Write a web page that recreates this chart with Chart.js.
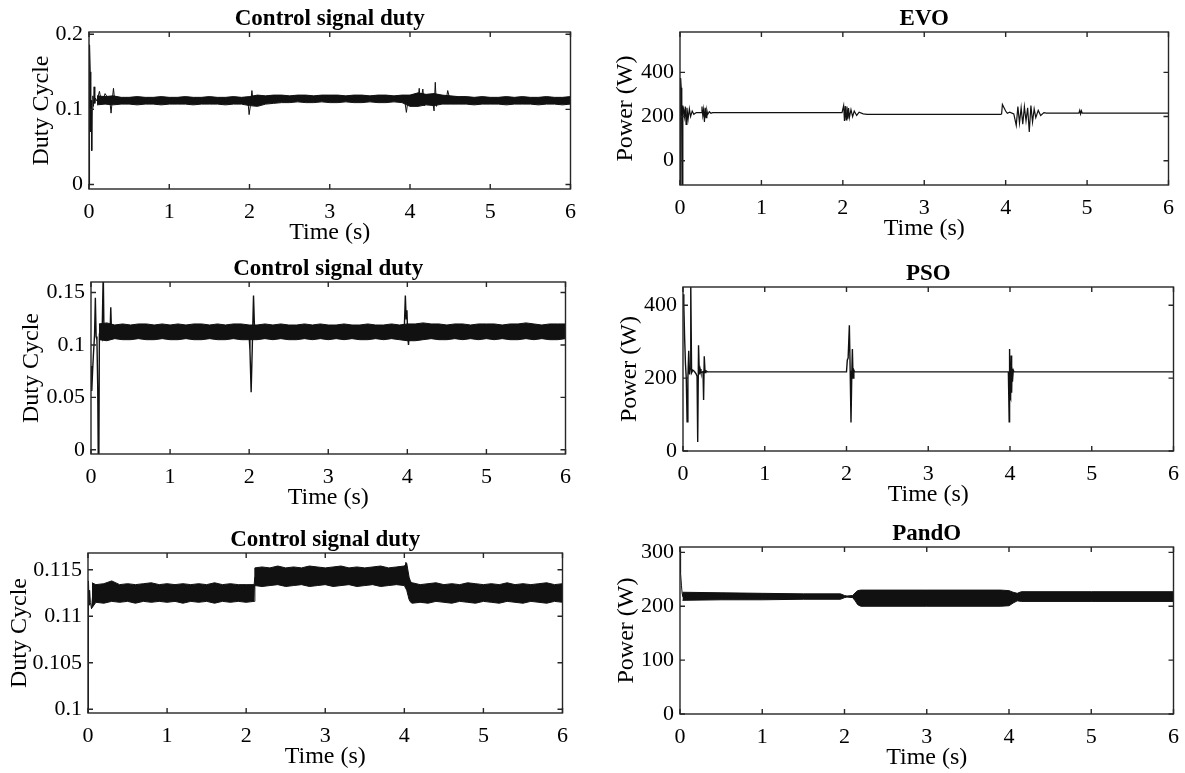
<!DOCTYPE html>
<html><head><meta charset="utf-8">
<script src="https://cdn.jsdelivr.net/npm/chart.js@4/dist/chart.umd.min.js"></script>
<style>
html,body{margin:0;padding:0;background:#fff;width:1185px;height:773px;overflow:hidden;position:relative}
canvas{position:absolute}
</style></head><body>
<script>
// ---------- shared ticks ----------
const timeTicks = [0, 1, 2, 3, 4, 5, 6];
const bandT = [0.1,0.2,0.3,0.4,0.5,0.6,0.7,0.8,0.9,1.0,1.1,1.2,1.3,1.4,1.5,1.6,1.7,1.8,1.9,2.0,2.1,2.2,2.3,2.4,2.5,2.6,2.7,2.8,2.9,3.0,3.1,3.2,3.3,3.4,3.5,3.6,3.7,3.8,3.9,4.0,4.1,4.2,4.3,4.4,4.5,4.6,4.7,4.8,4.9,5.0,5.1,5.2,5.3,5.4,5.5,5.6,5.7,5.8,5.9,6.0];

// ---------- EVO duty ----------
const evoDutyTicks = [0, 0.1, 0.2];
const evoDutyT = [0,0.004,0.01,0.016,0.022,0.028,0.034,0.04,0.048,0.056,0.064,0.072,0.08,0.1,0.13,0.16,0.2,0.26,0.275,0.29,0.305,0.32,0.4,1.0,1.6,1.98,1.995,2.01,2.03,2.05,2.07,2.1,2.5,3.0,3.5,3.93,3.955,3.97,4.0,4.1,4.115,4.13,4.16,4.18,4.2,4.28,4.3,4.315,4.33,4.35,4.45,4.47,4.5,5.0,5.5,6.0];
const evoDutyV = [0,0.115,0.186,0.15,0.07,0.112,0.045,0.1,0.118,0.104,0.13,0.108,0.115,0.111,0.124,0.108,0.121,0.111,0.095,0.113,0.128,0.112,0.111,0.111,0.111,0.112,0.093,0.104,0.125,0.106,0.118,0.113,0.114,0.114,0.114,0.115,0.096,0.108,0.115,0.112,0.128,0.109,0.127,0.105,0.115,0.112,0.098,0.136,0.104,0.118,0.112,0.125,0.112,0.112,0.112,0.112];
const evoDutyHi = [.118,.117,.118,.116,.116,.117,.116,.116,.117,.116,.116,.117,.116,.116,.117,.116,.116,.117,.116,.117,.119,.118,.119,.119,.118,.119,.119,.118,.119,.119,.119,.118,.119,.119,.118,.119,.119,.118,.119,.119,.122,.120,.121,.119,.118,.117,.117,.116,.117,.116,.116,.117,.116,.117,.116,.116,.117,.116,.116,.117];
const evoDutyLo = [.106,.107,.106,.107,.107,.106,.107,.107,.106,.107,.107,.107,.106,.107,.107,.107,.106,.107,.107,.105,.104,.107,.108,.109,.109,.110,.109,.109,.110,.109,.109,.110,.109,.109,.110,.109,.109,.110,.109,.104,.104,.106,.105,.107,.107,.107,.107,.106,.107,.107,.107,.106,.107,.107,.107,.106,.107,.107,.106,.107];

// ---------- EVO power ----------
const evoPowTicks = [0, 200, 400];
const evoPowT = [0,0.008,0.015,0.022,0.028,0.035,0.045,0.055,0.065,0.075,0.085,0.1,0.115,0.13,0.15,0.17,0.2,0.26,0.27,0.28,0.29,0.3,0.31,0.32,0.33,0.34,0.36,0.38,0.4,1.0,1.99,2.0,2.01,2.02,2.03,2.04,2.05,2.06,2.07,2.08,2.1,2.12,2.14,2.17,2.2,2.25,2.3,3.0,3.94,3.95,3.96,3.98,4.0,4.02,4.05,4.1,4.13,4.15,4.17,4.19,4.21,4.23,4.25,4.27,4.29,4.31,4.33,4.35,4.37,4.4,4.43,4.47,4.5,4.9,4.91,4.92,4.93,4.94,5.5,6.0];
const evoPowV = [-200,375,330,300,-200,250,230,200,245,165,240,190,235,200,225,210,218,218,245,205,232,175,240,195,228,210,222,215,218,218,218,218,250,180,248,185,245,190,238,195,232,200,225,205,220,212,210,210,210,212,255,240,225,215,220,212,160,245,170,240,165,245,180,240,130,250,175,235,195,228,205,218,216,216,228,212,226,216,216,216];

// ---------- PSO duty ----------
const psoDutyTicks = [0, 0.05, 0.1, 0.15];
const psoDutyT = [0,0.01,0.02,0.03,0.045,0.055,0.065,0.075,0.085,0.092,0.1,0.106,0.12,0.14,0.155,0.165,0.175,0.2,0.24,0.25,0.26,0.3,1.0,1.99,2.0,2.01,2.025,2.04,2.055,2.07,2.1,3.0,3.96,3.975,3.985,3.995,4.005,4.015,4.025,4.04,5.0,6.0];
const psoDutyV = [0.08,0.056,0.075,0.09,0.11,0.145,0.108,0.105,0.06,-0.01,0,0.11,0.115,0.108,0.17,0.106,0.115,0.112,0.108,0.136,0.11,0.112,0.112,0.112,0.108,0.095,0.055,0.1,0.147,0.11,0.113,0.112,0.112,0.147,0.125,0.133,0.108,0.1,0.113,0.112,0.112,0.112];
const psoDutyHi = [.120,.121,.119,.120,.119,.120,.120,.119,.120,.119,.120,.119,.120,.120,.119,.120,.119,.120,.120,.119,.119,.120,.119,.120,.119,.119,.120,.119,.120,.119,.119,.120,.119,.119,.120,.119,.119,.120,.119,.120,.120,.121,.120,.120,.119,.120,.120,.119,.120,.120,.120,.119,.120,.120,.121,.120,.119,.120,.120,.120];
const psoDutyLo = [.105,.104,.106,.105,.105,.106,.105,.105,.106,.105,.105,.106,.105,.105,.106,.105,.105,.106,.105,.105,.105,.106,.105,.106,.105,.105,.106,.105,.106,.105,.106,.105,.106,.105,.105,.106,.105,.106,.105,.104,.104,.105,.106,.105,.105,.106,.105,.106,.105,.106,.105,.106,.105,.105,.106,.105,.106,.105,.105,.106];

// ---------- PSO power ----------
const psoPowTicks = [0, 200, 400];
const psoPowT = [0,0.01,0.02,0.03,0.04,0.05,0.06,0.07,0.08,0.087,0.095,0.105,0.12,0.14,0.16,0.172,0.18,0.19,0.2,0.21,0.22,0.245,0.252,0.26,0.27,0.28,0.3,1.0,2.0,2.01,2.02,2.035,2.045,2.055,2.065,2.072,2.08,2.09,2.1,3.0,3.98,3.99,3.995,4.0,4.005,4.01,4.015,4.02,4.025,4.03,4.04,4.05,5.0,6.0];
const psoPowV = [430,400,310,240,200,80,200,275,210,225,460,215,222,218,212,205,25,290,210,225,215,218,140,260,215,220,217,217,217,250,255,345,220,78,215,280,200,222,217,217,217,80,280,150,230,145,262,160,225,190,222,217,217,217];

// ---------- P&O duty ----------
const poDutyTicks = [0.1, 0.105, 0.11, 0.115];
const poDutyT = [0,0.004,0.008,0.014,0.02,0.03,0.045,0.06,0.1,2.0,2.09,2.11,2.13,4.0,4.02,4.04,4.07,4.1,6.0];
const poDutyV = [0.0996,0.101,0.1138,0.1112,0.1128,0.1115,0.1108,0.1124,0.1125,0.1125,0.1125,0.1142,0.1143,0.1143,0.1158,0.1138,0.113,0.1125,0.1125];
const poBandT = [0.05,0.1,0.2,0.3,0.4,0.5,0.6,0.7,0.8,0.9,1.0,1.1,1.2,1.3,1.4,1.5,1.6,1.7,1.8,1.9,2.0,2.1,2.11,2.2,2.3,2.4,2.5,2.6,2.7,2.8,2.9,3.0,3.1,3.2,3.3,3.4,3.5,3.6,3.7,3.8,3.9,4.0,4.03,4.06,4.08,4.1,4.2,4.3,4.4,4.5,4.6,4.7,4.8,4.9,5.0,5.1,5.2,5.3,5.4,5.5,5.6,5.7,5.8,5.9,6.0];
const poDutyHi = [.1136,.1134,.1135,.1138,.1134,.1135,.1134,.1135,.1136,.1134,.1135,.1134,.1135,.1134,.1135,.1134,.1136,.1134,.1135,.1134,.1134,.1134,.1152,.1153,.1152,.1154,.1152,.1153,.1152,.1154,.1153,.1152,.1153,.1154,.1152,.1153,.1152,.1153,.1154,.1152,.1153,.1154,.1157,.1142,.1137,.1136,.1134,.1135,.1136,.1134,.1135,.1134,.1136,.1135,.1134,.1135,.1134,.1136,.1134,.1135,.1134,.1135,.1136,.1134,.1135];
const poDutyLo = [.1109,.1115,.1114,.1116,.1115,.1116,.1114,.1116,.1115,.1116,.1115,.1116,.1114,.1116,.1115,.1116,.1114,.1116,.1115,.1116,.1115,.1116,.1133,.1132,.1133,.1134,.1132,.1133,.1134,.1132,.1133,.1134,.1132,.1133,.1134,.1132,.1133,.1134,.1132,.1133,.1134,.1133,.1128,.1118,.1115,.1114,.1115,.1114,.1116,.1115,.1114,.1116,.1115,.1114,.1116,.1115,.1114,.1116,.1115,.1114,.1116,.1115,.1114,.1116,.1115];

// ---------- P&O power ----------
const poPowTicks = [0, 100, 200, 300];
const poPowT = [0,0.004,0.01,0.018,0.026,0.035];
const poPowV = [305,295,262,238,224,218];
const poPowBandT = [0.03,0.5,1.0,1.5,1.95,2.0,2.03,2.1,2.13,2.16,2.2,3.0,3.9,4.0,4.05,4.1,4.15,5.0,6.0];
const poPowHi = [226,225,224,223,223,220,219,220,225,229,230,230,230,229,226,224,227,227,227];
const poPowLo = [211,212,212,213,213,216,217,216,210,203,200,200,200,201,206,210,209,209,209];

// ---------- helpers ----------
const FONT = "'Liberation Serif','Times New Roman',serif";
const INK = '#111';
function pts(t, v) { const n = Math.min(t.length, v.length); const a = []; for (let i = 0; i < n; i++) a.push({x: t[i], y: v[i]}); return a; }
function fmt(v) { return String(Number(v.toFixed(6))); }

const framePlugin = {
  id: 'frame',
  afterDraw(chart) {
    const {ctx, chartArea: a} = chart;
    const x = chart.scales.x, y = chart.scales.y;
    ctx.save();
    ctx.strokeStyle = '#262626';
    ctx.lineWidth = 1.4;
    ctx.strokeRect(a.left, a.top, a.right - a.left, a.bottom - a.top);
    ctx.beginPath();
    const tl = 5;
    x.ticks.forEach(t => { const p = x.getPixelForValue(t.value); ctx.moveTo(p, a.bottom); ctx.lineTo(p, a.bottom - tl); ctx.moveTo(p, a.top); ctx.lineTo(p, a.top + tl); });
    y.ticks.forEach(t => { const p = y.getPixelForValue(t.value); ctx.moveTo(a.left, p); ctx.lineTo(a.left + tl, p); ctx.moveTo(a.right, p); ctx.lineTo(a.right - tl, p); });
    ctx.stroke();
    ctx.restore();
  }
};

function panel(o) {
  const TITLE_H = 26, XH = 58, PADR = 12;
  const left = o.yc - 14;
  const YW = o.L - left;
  const top = o.T - TITLE_H;
  const w = YW + (o.R - o.L) + PADR;
  const h = TITLE_H + (o.B - o.T) + XH;
  const c = document.createElement('canvas');
  c.width = w; c.height = h;
  c.style.left = left + 'px'; c.style.top = top + 'px';
  c.style.width = w + 'px'; c.style.height = h + 'px';
  document.body.appendChild(c);
  const datasets = o.datasets.map(d => Object.assign({
    borderColor: INK, backgroundColor: INK, borderWidth: 1, pointRadius: 0, tension: 0, fill: false
  }, d));
  new Chart(c, {
    type: 'line',
    data: {datasets},
    options: {
      responsive: false, animation: false, devicePixelRatio: 1,
      layout: {padding: {left: 0, right: PADR, top: 0, bottom: 0}},
      plugins: {
        legend: {display: false}, tooltip: {enabled: false},
        title: {display: true, text: o.title, fullSize: false, color: '#000',
          font: {family: FONT, size: 23, weight: 'bold', lineHeight: '26px'}, padding: {top: 0, bottom: 0}}
      },
      scales: {
        x: {
          type: 'linear', min: 0, max: 6,
          afterBuildTicks: s => { s.ticks = timeTicks.map(v => ({value: v})); },
          afterFit: s => { s.height = XH; },
          grid: {display: false, drawTicks: false}, border: {display: false},
          ticks: {padding: 10, color: '#000', font: {family: FONT, size: 22}, maxRotation: 0, autoSkip: false, callback: v => fmt(v)},
          title: {display: true, text: 'Time (s)', color: '#000', font: {family: FONT, size: 24, lineHeight: '28px'}, padding: 0}
        },
        y: {
          type: 'linear', min: o.ymin, max: o.ymax,
          afterBuildTicks: s => { s.ticks = o.yticks.map(v => ({value: v})); },
          afterFit: s => { s.width = YW; },
          grid: {display: false, drawTicks: false}, border: {display: false},
          ticks: {padding: 6, color: '#000', font: {family: FONT, size: 22}, autoSkip: false, callback: v => fmt(v)},
          title: {display: true, text: o.ylabel, color: '#000', font: {family: FONT, size: 24, lineHeight: '28px'}, padding: 0}
        }
      }
    },
    plugins: [framePlugin]
  });
}

panel({L: 89, R: 574, T: 32, B: 189, yc: 42, title: 'Control signal duty', ylabel: 'Duty Cycle',
  ymin: -0.006, ymax: 0.203, yticks: evoDutyTicks,
  datasets: [
    {data: pts(bandT, evoDutyHi), fill: '+1'},
    {data: pts(bandT, evoDutyLo)},
    {data: pts(evoDutyT, evoDutyV)}
  ]});

panel({L: 680, R: 1172, T: 32, B: 185, yc: 626, title: 'EVO', ylabel: 'Power (W)',
  ymin: -110, ymax: 583, yticks: evoPowTicks,
  datasets: [
    {data: pts(evoPowT, evoPowV), borderWidth: 1.2}
  ]});

panel({L: 91, R: 569, T: 282, B: 454, yc: 32, title: 'Control signal duty', ylabel: 'Duty Cycle',
  ymin: -0.004, ymax: 0.16, yticks: psoDutyTicks,
  datasets: [
    {data: pts(bandT, psoDutyHi), fill: '+1'},
    {data: pts(bandT, psoDutyLo)},
    {data: pts(psoDutyT, psoDutyV), borderWidth: 1.4}
  ]});

panel({L: 683, R: 1177, T: 287, B: 451, yc: 630, title: 'PSO', ylabel: 'Power (W)',
  ymin: 0, ymax: 450, yticks: psoPowTicks,
  datasets: [
    {data: pts(psoPowT, psoPowV), borderWidth: 1.4}
  ]});

panel({L: 88, R: 566, T: 553, B: 713, yc: 20, title: 'Control signal duty', ylabel: 'Duty Cycle',
  ymin: 0.0996, ymax: 0.1168, yticks: poDutyTicks,
  datasets: [
    {data: pts(poBandT, poDutyHi), fill: '+1'},
    {data: pts(poBandT, poDutyLo)},
    {data: pts(poDutyT, poDutyV)}
  ]});

panel({L: 680, R: 1177, T: 547, B: 714, yc: 627, title: 'PandO', ylabel: 'Power (W)',
  ymin: 0, ymax: 310, yticks: poPowTicks,
  datasets: [
    {data: pts(poPowBandT, poPowHi), fill: '+1'},
    {data: pts(poPowBandT, poPowLo)},
    {data: pts(poPowT, poPowV)}
  ]});
</script>
</body></html>
